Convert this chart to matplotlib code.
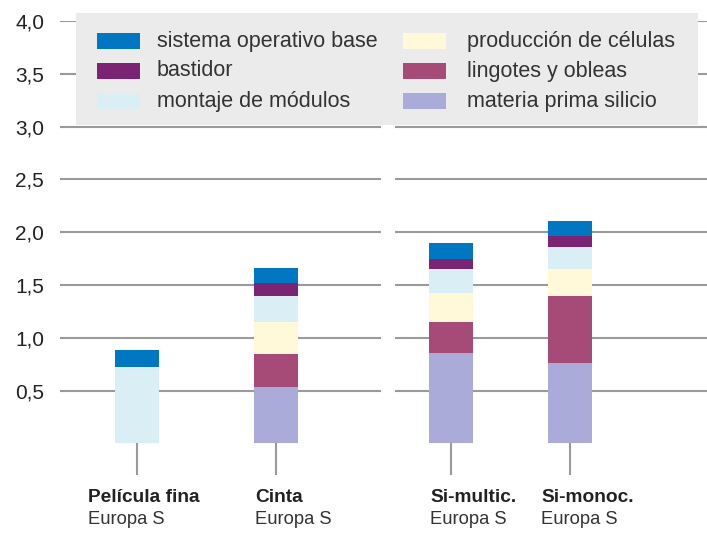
import matplotlib
matplotlib.use("Agg")
import matplotlib.pyplot as plt
from matplotlib.patches import Rectangle

plt.rcParams['font.family'] = ['Liberation Sans', 'DejaVu Sans']

# ---- data ----
categories = ["Película fina", "Cinta", "Si-multic.", "Si-monoc."]
regions = ["Europa S", "Europa S", "Europa S", "Europa S"]
series_names = ["materia prima silicio", "lingotes y obleas", "producción de células",
                "montaje de módulos", "bastidor", "sistema operativo base"]
materia = [0.00, 0.53, 0.86, 0.76]
lingotes = [0.00, 0.32, 0.29, 0.64]
produccion = [0.00, 0.30, 0.27, 0.25]
montaje = [0.72, 0.25, 0.23, 0.21]
bastidor = [0.00, 0.12, 0.10, 0.10]
base = [0.16, 0.14, 0.145, 0.145]
yticks = [0.5, 1.0, 1.5, 2.0, 2.5, 3.0, 3.5, 4.0]
ytick_labels = ["0,5", "1,0", "1,5", "2,0", "2,5", "3,0", "3,5", "4,0"]

series_values = [materia, lingotes, produccion, montaje, bastidor, base]
colors = ["#ABABD9", "#A64B77", "#FFF8D9", "#DAEEF5", "#7B2473", "#0077C0"]

# ---- layout ----
W, H = 707, 539
positions = [1.37, 2.76, 4.51, 5.70]
bar_w = 0.44

fig = plt.figure(figsize=(W / 100, H / 100), dpi=100)
ax = fig.add_axes([60 / W, (H - 475) / H, 647 / W, 454 / H])
ax.set_xlim(0.60, 7.07)
ax.set_ylim(-0.3, 4.0)
for s in ax.spines.values():
    s.set_visible(False)

grid_c = "#9a9a9a"
for y in yticks:
    ax.hlines(y, 0.60, 3.81, color=grid_c, lw=1.5, zorder=1)
    ax.hlines(y, 3.95, 7.07, color=grid_c, lw=1.5, zorder=1)
ax.vlines(positions, -0.3, 0, color=grid_c, lw=1.5, zorder=1)

bottoms = [0.0] * len(categories)
for vals, c in zip(series_values, colors):
    ax.bar(positions, vals, width=bar_w, bottom=bottoms, color=c, zorder=3, linewidth=0)
    bottoms = [b + v for b, v in zip(bottoms, vals)]

ax.set_xticks([])
ax.set_yticks(yticks)
ax.set_yticklabels(ytick_labels, fontsize=15, color="#222222")
ax.tick_params(axis='y', length=0, pad=11.5)

# legend box (figure pixel coords)
def fx(x):
    return x / W

def fy(y):
    return 1 - y / H

fig.patches.append(Rectangle((fx(76), fy(125)), fx(698) - fx(76), fy(13) - fy(125),
                             transform=fig.transFigure, facecolor="#EBEBEB",
                             edgecolor="none", zorder=5))
legend_order = [5, 4, 3, 2, 1, 0]
cols_x = [(97, 157), (403, 467)]
rows_y = [41, 71, 101]
for k, idx in enumerate(legend_order):
    col, row = divmod(k, 3)
    sx, tx = cols_x[col]
    yy = rows_y[row]
    fig.patches.append(Rectangle((fx(sx), fy(yy + 8)), fx(43), 16 / H,
                                 transform=fig.transFigure, facecolor=colors[idx],
                                 edgecolor="none", zorder=6))
    fig.text(fx(tx), fy(yy), series_names[idx], fontsize=15.5, color="#333333",
             va="center", ha="left", zorder=7)

label_x = [88, 255, 430, 541]
for lx, cat, reg in zip(label_x, categories, regions):
    fig.text(fx(lx), fy(497), cat, fontsize=13.8, fontweight="bold", color="#222222",
             va="center", ha="left")
    fig.text(fx(lx), fy(520), reg, fontsize=13.2, color="#333333", va="center", ha="left")

fig.savefig("out.png", dpi=100)
